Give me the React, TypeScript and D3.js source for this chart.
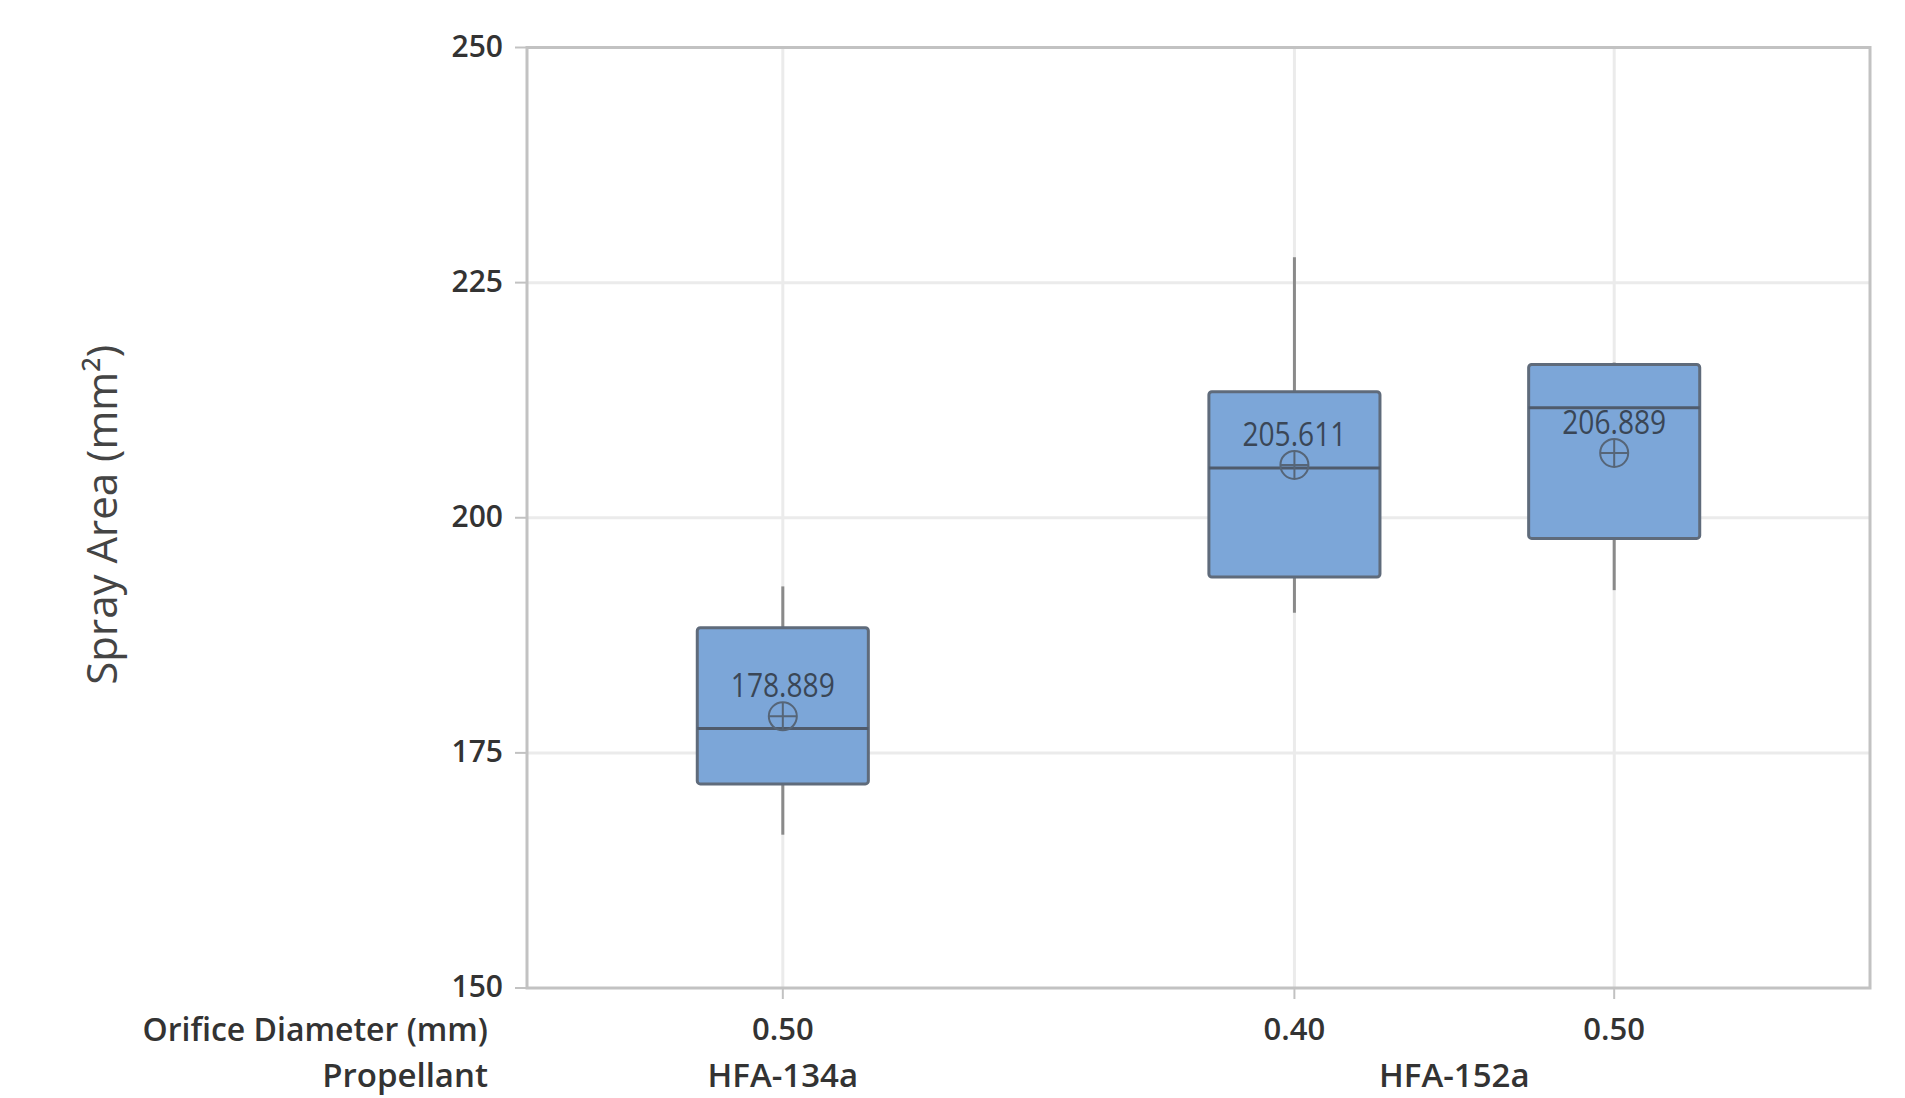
import React, { useRef, useEffect } from 'react';
import * as d3 from 'd3';

// values
const diameters = ['0.50', '0.40', '0.50'];
const propellants = ['HFA-134a', 'HFA-152a', 'HFA-152a'];
const groupOf = [0, 1, 1];
const whiskerLow = [166.3, 189.9, 192.3];
const q1 = [171.7, 193.7, 197.8];
const medians = [177.6, 205.3, 211.7];
const q3 = [188.3, 213.4, 216.3];
const whiskerHigh = [192.7, 227.7, 216.5];
const means = [178.889, 205.611, 206.889];
const yTicks = [150, 175, 200, 225, 250];

const App = () => {
  const svgRef = useRef(null);

  useEffect(() => {
    const W = 1905;
    const H = 1098;
    const margin = { top: 47.5, right: 35, bottom: 110, left: 527 };

    const svg = d3.select(svgRef.current).attr('width', W).attr('height', H);
    svg.selectAll('*').remove();

    const left = margin.left;
    const right = W - margin.right;
    const top = margin.top;
    const bottom = H - margin.bottom;

    // slot position of each box: a gap of 0.6 between propellant groups
    const pos = diameters.map((_, i) => i + groupOf[i] * 0.6);
    const x = d3.scaleLinear().domain([-0.8, 3.4]).range([left, right]);
    const y = d3.scaleLinear().domain([150, 250]).range([bottom, top]);
    const boxW = x(0.535) - x(0);

    const font = "'Open Sans', 'Noto Sans', sans-serif";

    // gridlines
    svg.append('g')
      .selectAll('line')
      .data(yTicks.filter(t => t > 150 && t < 250))
      .enter()
      .append('line')
      .attr('x1', left).attr('x2', right)
      .attr('y1', d => y(d)).attr('y2', d => y(d))
      .attr('stroke', '#ebebeb').attr('stroke-width', 3);

    svg.append('g')
      .selectAll('line')
      .data(pos)
      .enter()
      .append('line')
      .attr('x1', d => x(d)).attr('x2', d => x(d))
      .attr('y1', top).attr('y2', bottom)
      .attr('stroke', '#ebebeb').attr('stroke-width', 3);

    // frame
    svg.append('rect')
      .attr('x', left).attr('y', top)
      .attr('width', right - left).attr('height', bottom - top)
      .attr('fill', 'none').attr('stroke', '#c2c2c2').attr('stroke-width', 3);

    // y ticks + labels
    const yAxis = svg.append('g');
    yTicks.forEach(t => {
      yAxis.append('line')
        .attr('x1', left - 12).attr('x2', left)
        .attr('y1', y(t)).attr('y2', y(t))
        .attr('stroke', '#c2c2c2').attr('stroke-width', 2);
      yAxis.append('text')
        .attr('x', left - 24)
        .attr('y', y(t) + 9)
        .attr('text-anchor', 'end')
        .attr('font-family', font)
        .attr('font-weight', 600)
        .attr('font-size', 30)
        .attr('fill', '#333')
        .text(t);
    });

    // x ticks + labels
    const xAxis = svg.append('g');
    pos.forEach((p, i) => {
      xAxis.append('line')
        .attr('x1', x(p)).attr('x2', x(p))
        .attr('y1', bottom).attr('y2', bottom + 11)
        .attr('stroke', '#c2c2c2').attr('stroke-width', 2);
      xAxis.append('text')
        .attr('x', x(p))
        .attr('y', bottom + 52)
        .attr('text-anchor', 'middle')
        .attr('font-family', font)
        .attr('font-weight', 600)
        .attr('font-size', 31)
        .attr('fill', '#333')
        .text(diameters[i]);
    });

    // propellant labels centered under their group
    const groups = d3.groups(pos.map((p, i) => ({ p, name: propellants[i] })), d => d.name);
    groups.forEach(([name, items]) => {
      xAxis.append('text')
        .attr('x', x(d3.mean(items, d => d.p)))
        .attr('y', bottom + 99)
        .attr('text-anchor', 'middle')
        .attr('font-family', font)
        .attr('font-weight', 600)
        .attr('font-size', 33)
        .attr('fill', '#333')
        .text(name);
    });

    svg.append('text')
      .attr('x', 488).attr('y', bottom + 53)
      .attr('text-anchor', 'end')
      .attr('font-family', font).attr('font-weight', 600).attr('font-size', 32)
      .attr('fill', '#333')
      .text('Orifice Diameter (mm)');

    svg.append('text')
      .attr('x', 488).attr('y', bottom + 99)
      .attr('text-anchor', 'end')
      .attr('font-family', font).attr('font-weight', 600).attr('font-size', 33)
      .attr('fill', '#333')
      .text('Propellant');

    // y title
    svg.append('text')
      .attr('transform', `translate(117, ${(top + bottom) / 2 - 3}) rotate(-90)`)
      .attr('text-anchor', 'middle')
      .attr('font-family', font)
      .attr('font-size', 42)
      .attr('fill', '#444')
      .text('Spray Area (mm²)');

    // boxes
    const boxes = svg.append('g');
    pos.forEach((p, i) => {
      const cx = x(p);
      boxes.append('line')
        .attr('x1', cx).attr('x2', cx)
        .attr('y1', y(whiskerHigh[i])).attr('y2', y(q3[i]))
        .attr('stroke', '#8a8a8a').attr('stroke-width', 3);
      boxes.append('line')
        .attr('x1', cx).attr('x2', cx)
        .attr('y1', y(q1[i])).attr('y2', y(whiskerLow[i]))
        .attr('stroke', '#8a8a8a').attr('stroke-width', 3);
      boxes.append('rect')
        .attr('x', cx - boxW / 2).attr('y', y(q3[i]))
        .attr('width', boxW).attr('height', y(q1[i]) - y(q3[i]))
        .attr('rx', 3)
        .attr('fill', '#7ca6d8')
        .attr('stroke', '#5f6b7b').attr('stroke-width', 3);
      boxes.append('line')
        .attr('x1', cx - boxW / 2).attr('x2', cx + boxW / 2)
        .attr('y1', y(medians[i])).attr('y2', y(medians[i]))
        .attr('stroke', '#4f5b6c').attr('stroke-width', 3);

      // mean symbol: circle with a cross
      const my = y(means[i]);
      const r = 14;
      boxes.append('circle')
        .attr('cx', cx).attr('cy', my).attr('r', r)
        .attr('fill', 'none').attr('stroke', '#566577').attr('stroke-width', 2);
      boxes.append('path')
        .attr('d', `M${cx - r},${my}H${cx + r}M${cx},${my - r}V${my + r}`)
        .attr('stroke', '#566577').attr('stroke-width', 2);

      boxes.append('text')
        .attr('x', cx).attr('y', my - 19)
        .attr('text-anchor', 'middle')
        .attr('font-family', font)
        .attr('font-size', 32)
        .attr('textLength', 104)
        .attr('lengthAdjust', 'spacingAndGlyphs')
        .attr('fill', '#3a4656')
        .text(means[i].toFixed(3));
    });
  }, []);

  return (
    <div style={{ width: '100%' }}>
      <svg ref={svgRef} style={{ position: 'absolute', left: 0, top: 0, display: 'block', background: '#fff' }}></svg>
    </div>
  );
};

export default App;
